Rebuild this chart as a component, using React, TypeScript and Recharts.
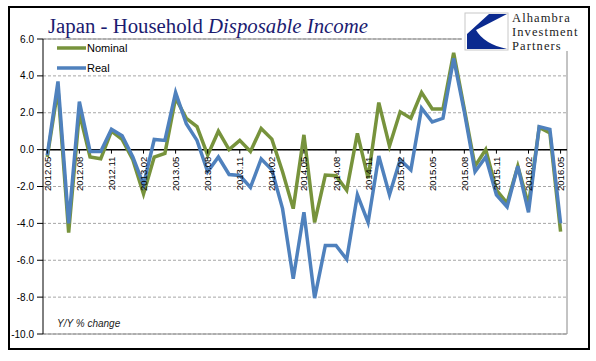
import React from 'react';
import { LineChart, Line, XAxis, YAxis, CartesianGrid, ReferenceLine } from 'recharts';

// month labels, 2012.05 .. 2016.05
const months = [
    '2012.05', '2012.06', '2012.07', '2012.08', '2012.09', '2012.10', '2012.11', '2012.12',
    '2013.01', '2013.02', '2013.03', '2013.04', '2013.05', '2013.06', '2013.07', '2013.08',
    '2013.09', '2013.10', '2013.11', '2013.12', '2014.01', '2014.02', '2014.03', '2014.04',
    '2014.05', '2014.06', '2014.07', '2014.08', '2014.09', '2014.10', '2014.11', '2014.12',
    '2015.01', '2015.02', '2015.03', '2015.04', '2015.05', '2015.06', '2015.07', '2015.08',
    '2015.09', '2015.10', '2015.11', '2015.12', '2016.01', '2016.02', '2016.03', '2016.04',
    '2016.05',
];

const nominal = [
    -0.4, 3.3, -4.5, 2.0, -0.4, -0.5, 1.0, 0.55, -0.55, -2.4, -0.4, -0.2, 2.8, 1.7, 1.25, -0.3,
    1.0, 0.0, 0.5, -0.1, 1.15, 0.57, -1.2, -3.2, 0.8, -3.95, -1.38, -1.42, -2.2, 0.88, -1.55, 2.55,
    0.2, 2.05, 1.7, 3.1, 2.2, 2.2, 5.25, 2.2, -0.9, 0.0, -2.2, -2.9, -0.9, -3.0, 1.2, 0.9,
    -4.45,
];

const real = [
    -0.3, 3.7, -4.0, 2.6, -0.1, -0.1, 1.1, 0.75, -0.4, -1.9, 0.55, 0.5, 3.1, 1.4, 0.5, -1.2,
    -0.4, -1.35, -1.4, -2.05, -0.5, -1.1, -3.2, -7.0, -3.4, -8.05, -5.2, -5.2, -5.95, -2.45, -3.95, -0.35,
    -2.45, -0.55, -1.1, 2.25, 1.5, 1.7, 4.95, 2.05, -1.2, -0.4, -2.45, -3.1, -0.9, -3.4, 1.25, 1.1,
    -4.0,
];

const xTicks = [0, 3, 6, 9, 12, 15, 18, 21, 24, 27, 30, 33, 36, 39, 42, 45, 48];
const yTicks = [6, 4, 2, 0, -2, -4, -6, -8, -10];

const series = [
    { key: 'nominal', name: 'Nominal', color: '#77933c' },
    { key: 'real', name: 'Real', color: '#4f81bd' },
];

const logoLines = ['Alhambra', 'Investment', 'Partners'];

const data = months.map((m, i) => ({ idx: i, month: m, nominal: nominal[i], real: real[i] }));

const Y_MIN = -10;
const Y_MAX = 6;
const PLOT_TOP = 39;
const PLOT_BOTTOM = 334;
const ZERO_Y = PLOT_TOP + (Y_MAX / (Y_MAX - Y_MIN)) * (PLOT_BOTTOM - PLOT_TOP);

const FONT = 'Arial, "Liberation Sans", sans-serif';
const SERIF = '"Liberation Serif", "Times New Roman", serif';

const XTick = (props: any) => {
    const { x, payload } = props;
    return (
        <g transform={`translate(${x},${ZERO_Y})`}>
            <line x1={0} x2={0} y1={0} y2={4} stroke="#000" />
            <text transform="rotate(-90)" x={-7} y={3.5} textAnchor="end" fontSize={9.5} fontFamily={FONT} fill="#000">
                {months[payload.value]}
            </text>
        </g>
    );
};

const App = () => {
    return (
        <div style={{ position: 'absolute', left: 0, top: 0, width: 596, height: 361, background: '#fff' }}>
            <div style={{ position: 'absolute', left: 8, top: 6, width: 582, height: 344, border: '2px solid #000', boxSizing: 'border-box' }} />
            <div style={{ position: 'absolute', left: 0, top: 0 }}>
                <LineChart width={596} height={361} data={data} margin={{ top: 39, right: 29, bottom: 26, left: 8 }}>
                    <CartesianGrid vertical={false} stroke="#a6a6a6" strokeDasharray="3 2" />
                    <XAxis dataKey="idx" type="number" domain={[-0.4, 48.6]} ticks={xTicks} interval={0}
                        tick={(p: any) => <XTick {...p} />} axisLine={false} tickLine={false} height={1} />
                    <YAxis domain={[Y_MIN, Y_MAX]} ticks={yTicks} interval={0} width={35}
                        tickFormatter={(v: number) => v.toFixed(1)} tickSize={6} tickMargin={3}
                        axisLine={{ stroke: '#000' }} tickLine={{ stroke: '#000' }}
                        tick={{ fontSize: 10, fill: '#000', fontFamily: FONT }} />
                    <ReferenceLine y={Y_MAX} stroke="#888" />
                    <ReferenceLine y={Y_MIN} stroke="#888" />
                    <ReferenceLine x={48.6} stroke="#888" />
                    <ReferenceLine y={0} stroke="#000" strokeWidth={1.5} />
                    {series.map((s) => (
                        <Line key={s.key} dataKey={s.key} name={s.name} stroke={s.color} strokeWidth={3.5}
                            dot={false} type="linear" isAnimationActive={false} />
                    ))}
                </LineChart>
            </div>
            <svg width={596} height={361} style={{ position: 'absolute', left: 0, top: 0, pointerEvents: 'none' }}>
                {/* title */}
                <text x={48} y={33} fontFamily={SERIF} fontSize={20.8} fill="#1b1b70">
                    Japan - Household <tspan fontStyle="italic">Disposable Income</tspan>
                </text>
                {/* legend */}
                {series.map((s, i) => (
                    <g key={s.key}>
                        <line x1={57} x2={86} y1={48 + i * 20} y2={48 + i * 20} stroke={s.color} strokeWidth={3.5} />
                        <text x={87} y={52 + i * 20} fontFamily={FONT} fontSize={11} fill="#000">{s.name}</text>
                    </g>
                ))}
                <text x={57} y={327} fontFamily={FONT} fontSize={10} fontStyle="italic" fill="#222">Y/Y % change</text>
                {/* logo */}
                <rect x={462} y={9} width={126} height={42} fill="#fff" />
                <rect x={465} y={13} width={43} height={37} fill="#fff" stroke="#c8c8c8" />
                <path d="M 489 14 L 507 14 L 476 30 Q 484 44 507 49 L 467 49 L 467 34 Z" fill="#0b2a8f" />
                {logoLines.map((t, i) => (
                    <text key={t} x={512} y={22 + i * 14} fontFamily={SERIF} fontSize={12.5} letterSpacing={1.1} fill="#222">{t}</text>
                ))}
            </svg>
        </div>
    );
};

export default App;
